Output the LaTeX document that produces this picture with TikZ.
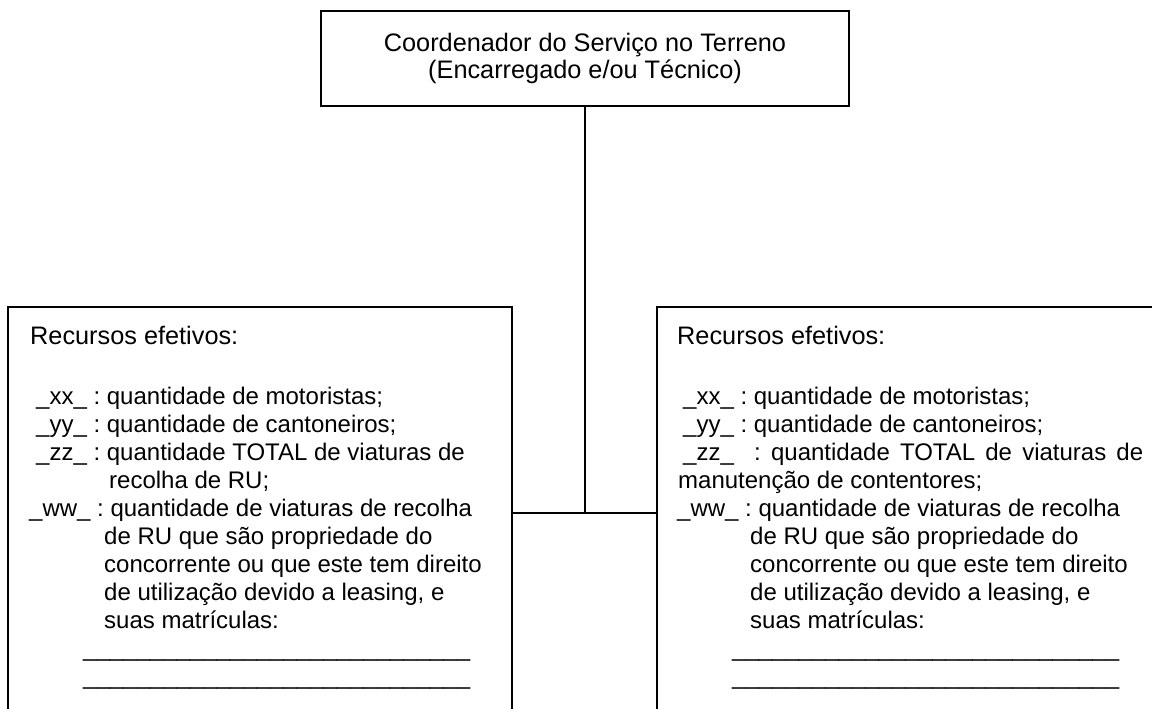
\documentclass[tikz,border=0pt]{standalone}
\usepackage{fontspec}
\setmainfont{Liberation Sans}
\frenchspacing
\newcommand\blankrow{\_\_\_\_\_\_\_\_\_\_\_\_\_\_\_\_\_\_\_\_\_\_\_\_\_\_\_\_\_}
\newcommand\headfont{\fontsize{25.3}{28}\selectfont}
\tikzset{
  box/.style={draw, line width=2.5pt, inner sep=0pt, rectangle},
  conn/.style={draw, line width=2.5pt},
  txt/.style={anchor=north west, align=left, inner sep=0pt, font=\fontsize{24}{28}\selectfont},
}
\begin{document}
\begin{tikzpicture}[x=1pt,y=-1pt]
\path[use as bounding box] (0,0) rectangle (1152,709);
\clip (0,0) rectangle (1152,709);
\node[box, minimum width=528pt, minimum height=95pt, align=center,
      font=\fontsize{25.3}{27}\selectfont] (coord) at (585,58.5)
  {\raisebox{-2pt}{Coordenador do Serviço no Terreno}\\\raisebox{-2pt}{(Encarregado e/ou Técnico)}};
\node[box, minimum width=504pt, minimum height=433pt] (lbox) at (260,523.5) {};
\node[box, minimum width=543pt, minimum height=433pt] (rbox) at (928.5,523.5) {};
\coordinate (jn) at (585,513);
\draw[conn] (coord.south) -- (jn);
\draw[conn] (lbox.east |- jn) -- (rbox.west |- jn);
\node[txt] (ltext) at (29,326) {%
\hspace*{1pt}{\headfont Recursos efetivos:}\\[32pt]
\hspace*{7pt}\_xx\_ : quantidade de motoristas;\\
\hspace*{7pt}\_yy\_ : quantidade de cantoneiros;\\
\hspace*{7pt}\_zz\_ : quantidade TOTAL de viaturas de\\
\hspace*{80pt}recolha de RU;\\
\_ww\_ : quantidade de viaturas de recolha\\
\hspace*{75pt}de RU que são propriedade do\\
\hspace*{75pt}concorrente ou que este tem direito\\
\hspace*{75pt}de utilização devido a leasing, e\\
\hspace*{75pt}suas matrículas:\\
\hspace*{54pt}\blankrow\\
\hspace*{54pt}\blankrow};
\node[txt] (rtext) at (677,326) {%
{\headfont Recursos efetivos:}\\[32pt]
\hspace*{6pt}\_xx\_ : quantidade de motoristas;\\
\hspace*{6pt}\_yy\_ : quantidade de cantoneiros;\\
\hspace*{6pt}\makebox[460pt][s]{\_zz\_ \ : quantidade TOTAL de viaturas de}\\
\hspace*{1pt}manutenção de contentores;\\
\_ww\_ : quantidade de viaturas de recolha\\
\hspace*{73pt}de RU que são propriedade do\\
\hspace*{73pt}concorrente ou que este tem direito\\
\hspace*{73pt}de utilização devido a leasing, e\\
\hspace*{73pt}suas matrículas:\\
\hspace*{55pt}\blankrow\\
\hspace*{55pt}\blankrow};
\end{tikzpicture}
\end{document}
